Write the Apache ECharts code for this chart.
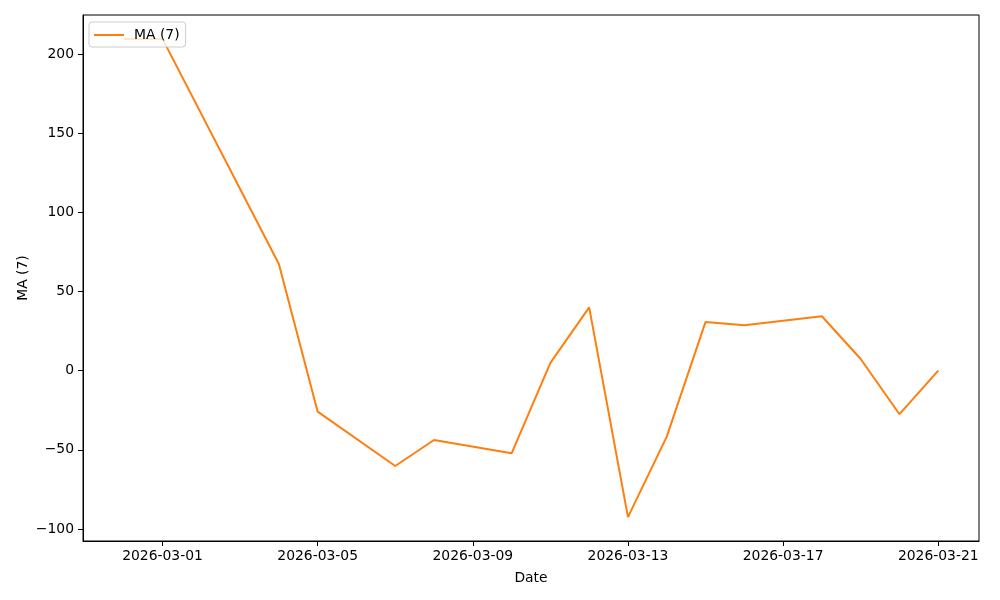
<!DOCTYPE html>
<html><head><meta charset="utf-8">
<script src="https://cdn.jsdelivr.net/npm/echarts@6/dist/echarts.min.js"></script>
<style>html,body{margin:0;padding:0;background:#fff}#c{width:1000px;height:600px}</style>
</head><body><div id="c"></div>
<script>
const dates = ['2026-02-28','2026-03-01','2026-03-04','2026-03-05','2026-03-07','2026-03-08','2026-03-10','2026-03-11','2026-03-12','2026-03-13','2026-03-14','2026-03-15','2026-03-16','2026-03-18','2026-03-19','2026-03-20','2026-03-21'];
const maValues = [209.6, 209.6, 67.4, -25.9, -60.2, -43.8, -52.2, 4.9, 40.0, -92.5, -41.7, 30.8, 28.7, 34.4, 7.4, -27.5, 0.0];
const xTickLabels = ['2026-03-01','2026-03-05','2026-03-09','2026-03-13','2026-03-17','2026-03-21'];
const yTicks = [-100, -50, 0, 50, 100, 150, 200];
const seriesName = 'MA (7)';

const ts = s => { const [y,m,d] = s.split('-').map(Number); return Date.UTC(y, m-1, d); };
const xs = dates.map(ts);
const span = xs[xs.length-1] - xs[0];
const xMin = xs[0] - 0.05*span, xMax = xs[xs.length-1] + 0.05*span;
const yLo = Math.min(...maValues), yHi = Math.max(...maValues), ySpan = yHi - yLo;
const yMin = yLo - 0.05*ySpan, yMax = yHi + 0.05*ySpan;
const pad = n => String(n).padStart(2,'0');
const fmtDate = v => { const d = new Date(v); return d.getUTCFullYear()+'-'+pad(d.getUTCMonth()+1)+'-'+pad(d.getUTCDate()); };
const fmtNum = v => (v < 0 ? '\u2212' + Math.abs(v) : String(v));
const font = 'DejaVu Sans';
const fs = 13.9;

const chart = echarts.init(document.getElementById('c'), null, {renderer:'canvas'});
chart.setOption({
  animation: false,
  backgroundColor: '#fff',
  textStyle: {fontFamily: font},
  grid: {left: 83, right: 21, top: 15, bottom: 59, show: true, borderColor: '#000', borderWidth: 1, containLabel: false},
  legend: {
    left: 89, top: 22, orient: 'vertical',
    data: [{name: seriesName, icon: 'path://M0,0 L30,0 L30,2 L0,2 Z'}],
    itemWidth: 30, itemHeight: 2, itemGap: 4,
    padding: [6, 6, 5, 5],
    borderColor: '#cccccc', borderWidth: 1, borderRadius: 3,
    backgroundColor: 'rgba(255,255,255,0.8)',
    textStyle: {fontFamily: font, fontSize: fs, color: '#000', padding: [0, 0, 0, 5]}
  },
  xAxis: {
    type: 'value', min: xMin, max: xMax,
    name: 'Date', nameLocation: 'middle', nameGap: 30, nameMoveOverlap: false,
    nameTextStyle: {fontFamily: font, fontSize: fs, color: '#000'},
    splitLine: {show: false},
    axisLine: {show: true, onZero: false, lineStyle: {color: '#000', width: 1}},
    axisTick: {show: true, length: 5, lineStyle: {color: '#000'}, customValues: xTickLabels.map(ts)},
    axisLabel: {fontFamily: font, fontSize: fs, color: '#000', margin: 8, customValues: xTickLabels.map(ts), formatter: fmtDate}
  },
  yAxis: {
    type: 'value', min: yMin, max: yMax,
    name: seriesName, nameLocation: 'middle', nameGap: 53, nameRotate: 90, nameMoveOverlap: false,
    nameTextStyle: {fontFamily: font, fontSize: fs, color: '#000'},
    splitLine: {show: false},
    axisLine: {show: true, onZero: false, lineStyle: {color: '#000', width: 1}},
    axisTick: {show: true, length: 5, lineStyle: {color: '#000'}, customValues: yTicks},
    axisLabel: {fontFamily: font, fontSize: fs, color: '#000', margin: 9, customValues: yTicks, formatter: fmtNum}
  },
  series: [{
    name: seriesName, type: 'line', symbol: 'none',
    data: xs.map((x, i) => [x, maValues[i]]),
    lineStyle: {color: '#ff7f0e', width: 2},
    itemStyle: {color: '#ff7f0e'}
  }]
});
</script></body></html>
